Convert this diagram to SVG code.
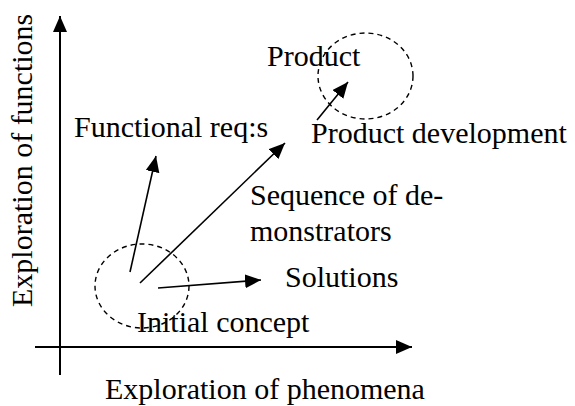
<svg xmlns="http://www.w3.org/2000/svg" width="575" height="406" viewBox="0 0 575 406">
<style>
.t{font-family:'Liberation Serif','Times New Roman','DejaVu Serif',serif;font-size:30px;fill:#000}
.ax{stroke:#000;stroke-width:2;fill:none}
.ar{stroke:#000;stroke-width:1.6;fill:none}
.dash{stroke:#000;stroke-width:1.4;fill:none;stroke-dasharray:5 4}
</style>
<defs>
<marker id="ah" markerUnits="userSpaceOnUse" markerWidth="17" markerHeight="15" refX="16" refY="7" orient="auto">
<path d="M0,0 L16,7 L0,14 z" fill="#000"/>
</marker>
</defs>
<g id="axes" font-family="Liberation Serif, serif" font-size="30">
<line class="ax" x1="60" y1="375" x2="60" y2="16" marker-end="url(#ah)"/>
<line class="ax" x1="35" y1="347" x2="412" y2="347" marker-end="url(#ah)"/>
<text class="t" transform="translate(32,307) rotate(-90)">Exploration of functions</text>
<text class="t" x="105" y="399">Exploration of phenomena</text>
</g>
<g id="initial-concept" font-family="Liberation Serif, serif" font-size="30">
<ellipse class="dash" cx="142" cy="286" rx="47" ry="42"/>
<text class="t" x="137" y="332">Initial concept</text>
</g>
<g id="product" font-family="Liberation Serif, serif" font-size="30">
<ellipse class="dash" cx="365.5" cy="76" rx="47.5" ry="43"/>
<text class="t" x="267" y="66">Product</text>
</g>
<g id="functional-req" font-family="Liberation Serif, serif" font-size="30">
<text class="t" x="74" y="137">Functional req:s</text>
</g>
<g id="sequence" font-family="Liberation Serif, serif" font-size="30">
<text class="t" x="250" y="205">Sequence of de-</text>
<text class="t" x="250" y="241">monstrators</text>
</g>
<g id="solutions" font-family="Liberation Serif, serif" font-size="30">
<text class="t" x="285" y="287">Solutions</text>
</g>
<g id="product-development" font-family="Liberation Serif, serif" font-size="30">
<text class="t" x="311" y="143">Product development</text>
</g>
<g id="connectors">
<line class="ar" x1="130" y1="272" x2="156" y2="156" marker-end="url(#ah)"/>
<line class="ar" x1="140" y1="283" x2="285" y2="143" marker-end="url(#ah)"/>
<line class="ar" x1="158" y1="288" x2="261" y2="280" marker-end="url(#ah)"/>
<line class="ar" x1="317" y1="120" x2="348" y2="82" marker-end="url(#ah)"/>
</g>
</svg>
